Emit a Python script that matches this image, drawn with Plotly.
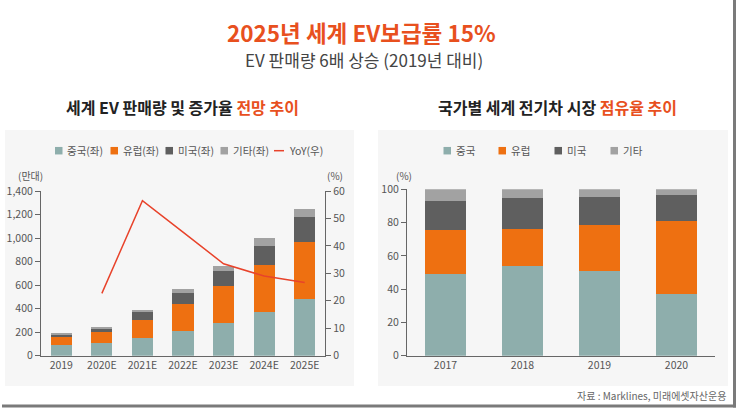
import plotly.graph_objects as go

W, H = 740, 414
FONT = "Noto Sans CJK KR"

# Left chart data (만대)
years_l = ["2019", "2020E", "2021E", "2022E", "2023E", "2024E", "2025E"]
china_l = [90, 110, 150, 214, 279, 372, 485]
europe_l = [70, 88, 157, 225, 316, 400, 484]
us_l = [20, 30, 65, 96, 129, 163, 211]
other_l = [10, 15, 17, 28, 40, 62, 65]
yoy = [None, 22.7, 56.5, 45.0, 33.5, 29.0, 26.7]
names_l = ["중국(좌)", "유럽(좌)", "미국(좌)", "기타(좌)"]
yoy_name = "YoY(우)"

# Right chart data (%)
years_r = ["2017", "2018", "2019", "2020"]
china_r = [49.1, 53.9, 51.1, 37.3]
europe_r = [26.4, 22.1, 27.4, 43.8]
us_r = [17.5, 18.6, 16.7, 15.3]
other_r = [7.0, 5.4, 4.8, 3.6]
names_r = ["중국", "유럽", "미국", "기타"]

C_CN = "#8eaeac"
C_EU = "#ee7011"
C_US = "#5f5f5f"
C_OT = "#a2a2a2"
C_YOY = "#e8432b"
ORANGE = "#e8501e"
colors = [C_CN, C_EU, C_US, C_OT]


def px(x):
    return x / W


def py(y):
    return 1 - y / H


fig = go.Figure()

for name, vals, col in zip(names_l, [china_l, europe_l, us_l, other_l], colors):
    fig.add_trace(go.Bar(x=years_l, y=vals, name=name, marker_color=col,
                         marker_line_width=0, xaxis="x", yaxis="y"))
fig.add_trace(go.Scatter(x=years_l, y=yoy, name=yoy_name, mode="lines",
                         line=dict(color=C_YOY, width=1.5), xaxis="x", yaxis="y2"))

for name, vals, col in zip(names_r, [china_r, europe_r, us_r, other_r], colors):
    fig.add_trace(go.Bar(x=years_r, y=vals, name=name, marker_color=col,
                         marker_line_width=0, xaxis="x2", yaxis="y3"))

axis_common = dict(showline=True, linecolor="#666", linewidth=1.2, showgrid=False,
                   zeroline=False, automargin=False,
                   tickfont=dict(size=10.5, color="#555", family=FONT))

fig.update_layout(
    width=W, height=H, margin=dict(l=0, r=0, t=0, b=0, autoexpand=False),
    paper_bgcolor="white", plot_bgcolor="rgba(0,0,0,0)",
    barmode="stack", bargap=0.48,
    font=dict(family=FONT, color="#444"),
    showlegend=False,
    xaxis=dict(domain=[px(41), px(325)], anchor="y", ticks="", **axis_common),
    yaxis=dict(domain=[py(355.7), py(191)], range=[0, 1400], dtick=200,
               tickformat=",", ticks="outside", ticklen=5, tickcolor="#666",
               anchor="x", **axis_common),
    yaxis2=dict(overlaying="y", side="right", range=[0, 60], dtick=10,
                ticks="outside", ticklen=5, tickcolor="#666", anchor="x",
                **axis_common),
    xaxis2=dict(domain=[px(407), px(715)], anchor="y3", ticks="", **axis_common),
    yaxis3=dict(domain=[py(355.7), py(189.3)], range=[0, 100], dtick=20,
                ticks="outside", ticklen=5, tickcolor="#666", anchor="x2",
                **axis_common),
)

# Panels and frame
shapes = [
    dict(type="rect", xref="paper", yref="paper", x0=px(5), x1=px(354), y0=py(386), y1=py(130),
         fillcolor="#f6f6f6", line_width=0, layer="below"),
    dict(type="rect", xref="paper", yref="paper", x0=px(378), x1=px(728), y0=py(386), y1=py(130),
         fillcolor="#f6f6f6", line_width=0, layer="below"),
    dict(type="line", xref="paper", yref="paper", x0=px(734.5), x1=px(734.5), y0=py(407.5), y1=py(0),
         line=dict(color="#7a7a7a", width=3)),
    dict(type="line", xref="paper", yref="paper", x0=px(2), x1=px(736), y0=py(406), y1=py(406),
         line=dict(color="#7a7a7a", width=3)),
]

ann = [
    dict(text="<b>2025년 세계 EV보급률 15%</b>", x=px(361.5), y=py(32), font=dict(size=22.5, color=ORANGE)),
    dict(text="EV 판매량 6배 상승 (2019년 대비)", x=px(364), y=py(60), font=dict(size=17, color="#444")),
    dict(text="<b>세계 EV 판매량 및 증가율 <span style='color:%s'>전망 추이</span></b>" % ORANGE,
         x=px(182), y=py(107), font=dict(size=16, color="#222")),
    dict(text="<b>국가별 세계 전기차 시장 <span style='color:%s'>점유율 추이</span></b>" % ORANGE,
         x=px(557), y=py(107), font=dict(size=16, color="#222")),
    dict(text="(만대)", x=px(30), y=py(175), font=dict(size=10, color="#555")),
    dict(text="(%)", x=px(335), y=py(175), font=dict(size=10, color="#555")),
    dict(text="(%)", x=px(404), y=py(175), font=dict(size=10, color="#555")),
    dict(text="자료 : Marklines, 미래에셋자산운용", x=px(728), xanchor="right", y=py(395),
         font=dict(size=10, color="#666")),
]

# Manual legends (compact, like the reference)
LEG_Y = 150.7
SQ = 7.5
left_sq_x = [55, 110.5, 165.5, 220.5]
for name, col, x0 in zip(names_l, colors, left_sq_x):
    shapes.append(dict(type="rect", xref="paper", yref="paper", x0=px(x0), x1=px(x0 + SQ),
                       y0=py(LEG_Y + SQ / 2), y1=py(LEG_Y - SQ / 2), fillcolor=col, line_width=0))
    ann.append(dict(text=name, x=px(x0 + SQ + 2.5), xanchor="left", y=py(LEG_Y),
                    font=dict(size=10.5, color="#555")))
shapes.append(dict(type="line", xref="paper", yref="paper", x0=px(274), x1=px(284),
                   y0=py(LEG_Y), y1=py(LEG_Y), line=dict(color=C_YOY, width=1.5)))
ann.append(dict(text=yoy_name, x=px(286.5), xanchor="left", y=py(LEG_Y),
                font=dict(size=10.5, color="#555")))

right_sq_x = [443.5, 498.5, 554.5, 610.5]
for name, col, x0 in zip(names_r, colors, right_sq_x):
    shapes.append(dict(type="rect", xref="paper", yref="paper", x0=px(x0), x1=px(x0 + SQ),
                       y0=py(LEG_Y + SQ / 2), y1=py(LEG_Y - SQ / 2), fillcolor=col, line_width=0))
    ann.append(dict(text=name, x=px(x0 + SQ + 3), xanchor="left", y=py(LEG_Y),
                    font=dict(size=10.5, color="#555")))

fig.update_layout(shapes=shapes)

for a in ann:
    a.setdefault("xanchor", "center")
    fig.add_annotation(xref="paper", yref="paper", showarrow=False, yanchor="middle",
                       font_family=FONT, **a)

fig.write_html("out.html", config={"displayModeBar": False},
               post_script="document.body.style.margin='0px';document.body.style.overflow='hidden';")
